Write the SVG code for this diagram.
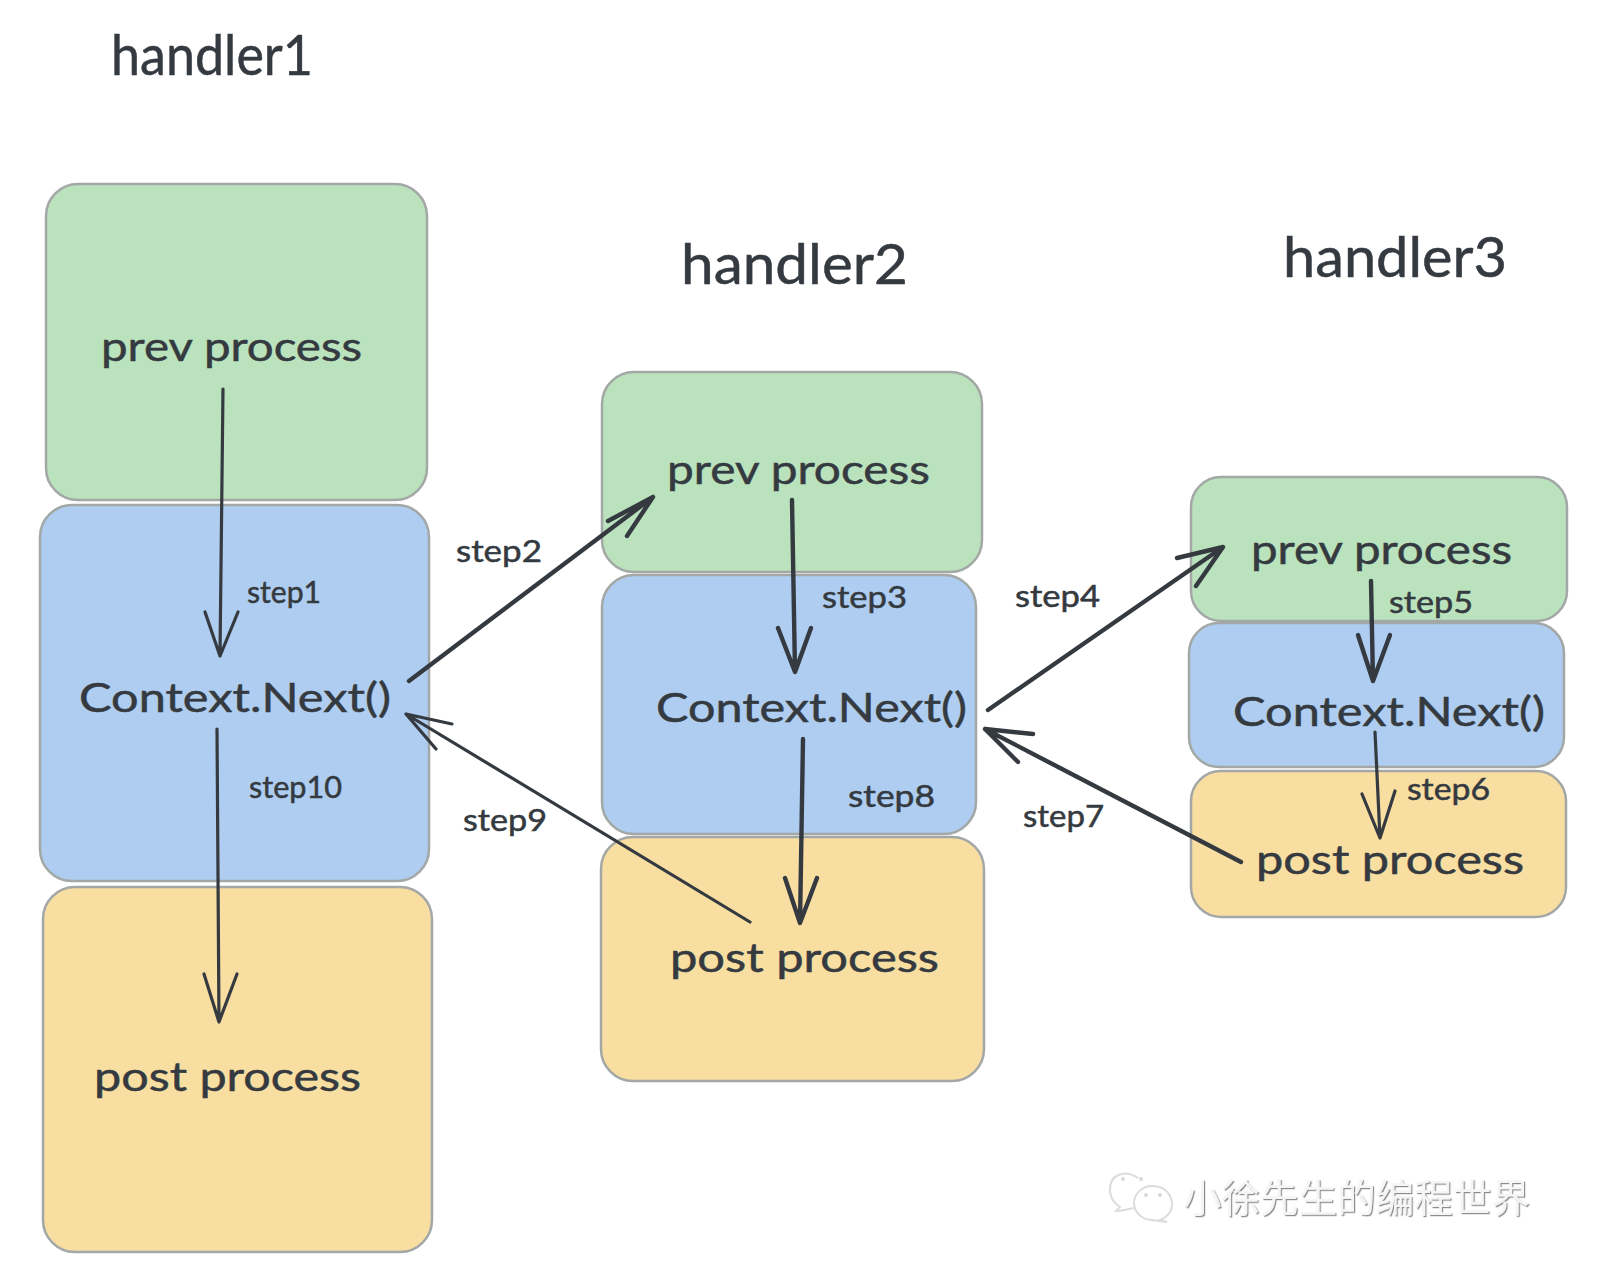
<svg xmlns="http://www.w3.org/2000/svg" width="1600" height="1280" viewBox="0 0 1600 1280">
<defs>
<filter id="emboss" x="-5%" y="-20%" width="110%" height="140%"><feDropShadow dx="1.2" dy="1.2" stdDeviation="0.6" flood-color="#8c8c8c"/></filter>
</defs>
<style>
text{font-family:"Lato","Noto Sans",sans-serif;fill:#343a40;font-weight:400;stroke:#343a40;stroke-width:.5}
.title{font-size:56px}
.lab{font-size:41px}
.step{font-size:30px}
.box{stroke:#a3a8a6;stroke-width:2.5}
.g{fill:#bae2bc}
.b{fill:#aecdf0}
.y{fill:#f8dea1}
.c path{fill:none;stroke:#343a40;stroke-width:3.2;stroke-linecap:round;stroke-linejoin:round}
.c path.thick{stroke-width:4.4}
.wm{font-family:"Noto Sans CJK SC",sans-serif;font-size:38.5px;fill:#f5f5f5;stroke:none}
.wi{fill:none;stroke:#dcdcdc;stroke-width:2}
.wd{fill:#d8d8d8}
</style>
<rect width="1600" height="1280" fill="#ffffff"/>
<g id="handler1">
<text class="title" x="111" y="75" textLength="202" lengthAdjust="spacingAndGlyphs">handler1</text>
<g id="h1-prev"><rect class="box g" x="46" y="184" width="381" height="316" rx="32"/><text class="lab" x="101" y="361" textLength="261" lengthAdjust="spacingAndGlyphs">prev process</text></g>
<g id="h1-ctx"><rect class="box b" x="40" y="505" width="389" height="376" rx="32"/><text class="lab" x="79" y="712" textLength="312" lengthAdjust="spacingAndGlyphs">Context.Next()</text></g>
<g id="h1-post"><rect class="box y" x="43" y="887" width="389" height="365" rx="32"/><text class="lab" x="94" y="1091" textLength="267" lengthAdjust="spacingAndGlyphs">post process</text></g>
</g>
<g id="handler2">
<text class="title" x="681" y="284" textLength="227" lengthAdjust="spacingAndGlyphs">handler2</text>
<g id="h2-prev"><rect class="box g" x="602" y="372" width="380" height="200" rx="32"/><text class="lab" x="667" y="484" textLength="263" lengthAdjust="spacingAndGlyphs">prev process</text></g>
<g id="h2-ctx"><rect class="box b" x="602" y="575" width="374" height="259" rx="32"/><text class="lab" x="656" y="722" textLength="311" lengthAdjust="spacingAndGlyphs">Context.Next()</text></g>
<g id="h2-post"><rect class="box y" x="601" y="837" width="383" height="244" rx="32"/><text class="lab" x="670" y="972" textLength="269" lengthAdjust="spacingAndGlyphs">post process</text></g>
</g>
<g id="handler3">
<text class="title" x="1283" y="277" textLength="224" lengthAdjust="spacingAndGlyphs">handler3</text>
<g id="h3-prev"><rect class="box g" x="1191" y="477" width="376" height="144" rx="30"/><text class="lab" x="1251" y="564" textLength="261" lengthAdjust="spacingAndGlyphs">prev process</text></g>
<g id="h3-ctx"><rect class="box b" x="1189" y="623" width="375" height="144" rx="30"/><text class="lab" x="1233" y="726" textLength="312" lengthAdjust="spacingAndGlyphs">Context.Next()</text></g>
<g id="h3-post"><rect class="box y" x="1191" y="771" width="375" height="146" rx="30"/><text class="lab" x="1256" y="874" textLength="268" lengthAdjust="spacingAndGlyphs">post process</text></g>
</g>
<g id="connectors" class="c">
<path d="M223 389L220 656M205 612L220 656L238 612"/>
<path d="M409 681L653 497M608 521L653 497L627 536" class="thick"/>
<path d="M792 500L795 672M778 628L795 672L811 628" class="thick"/>
<path d="M988 710L1223 547M1177 558L1223 547L1196 586" class="thick"/>
<path d="M1371 581L1373 681M1358 635L1373 681L1390 635" class="thick"/>
<path d="M1375 732L1380 838M1362 794L1380 838L1395 791"/>
<path d="M1241 862L985 729M1033 734L985 729L1018 762" class="thick"/>
<path d="M803 739L800 923M785 878L800 923L817 878" class="thick"/>
<path d="M750 922L406 714M452 724L406 714L436 749"/>
<path d="M217 729L219 1022M204 974L219 1022L237 974"/>
</g>
<g id="step-labels">
<text class="step" x="247" y="603" textLength="74" lengthAdjust="spacingAndGlyphs">step1</text>
<text class="step" x="456" y="562" textLength="86" lengthAdjust="spacingAndGlyphs">step2</text>
<text class="step" x="822" y="608" textLength="85" lengthAdjust="spacingAndGlyphs">step3</text>
<text class="step" x="1015" y="607" textLength="85" lengthAdjust="spacingAndGlyphs">step4</text>
<text class="step" x="1389" y="613" textLength="84" lengthAdjust="spacingAndGlyphs">step5</text>
<text class="step" x="1407" y="800" textLength="83" lengthAdjust="spacingAndGlyphs">step6</text>
<text class="step" x="1023" y="827" textLength="81" lengthAdjust="spacingAndGlyphs">step7</text>
<text class="step" x="848" y="807" textLength="87" lengthAdjust="spacingAndGlyphs">step8</text>
<text class="step" x="463" y="831" textLength="84" lengthAdjust="spacingAndGlyphs">step9</text>
<text class="step" x="249" y="798" textLength="93" lengthAdjust="spacingAndGlyphs">step10</text>
</g>
<g id="watermark">
<path class="wi" d="M1138 1178C1124 1168 1109 1176 1110 1190C1110 1198 1114 1203 1120 1207L1116 1211C1122 1211 1128 1209 1134 1208"/>
<path class="wi" d="M1152 1186C1168 1186 1172 1198 1172 1205C1172 1212 1166 1218 1160 1220L1167 1222L1152 1220C1142 1220 1134 1212 1134 1203C1134 1194 1142 1186 1152 1186Z"/>
<circle class="wd" cx="1123" cy="1179" r="2"/><circle class="wd" cx="1141" cy="1179" r="2"/><circle class="wd" cx="1146" cy="1195" r="2"/><circle class="wd" cx="1160" cy="1195" r="2"/>
<text class="wm" x="1183" y="1212" textLength="347" filter="url(#emboss)">小徐先生的编程世界</text>
</g>
</svg>
